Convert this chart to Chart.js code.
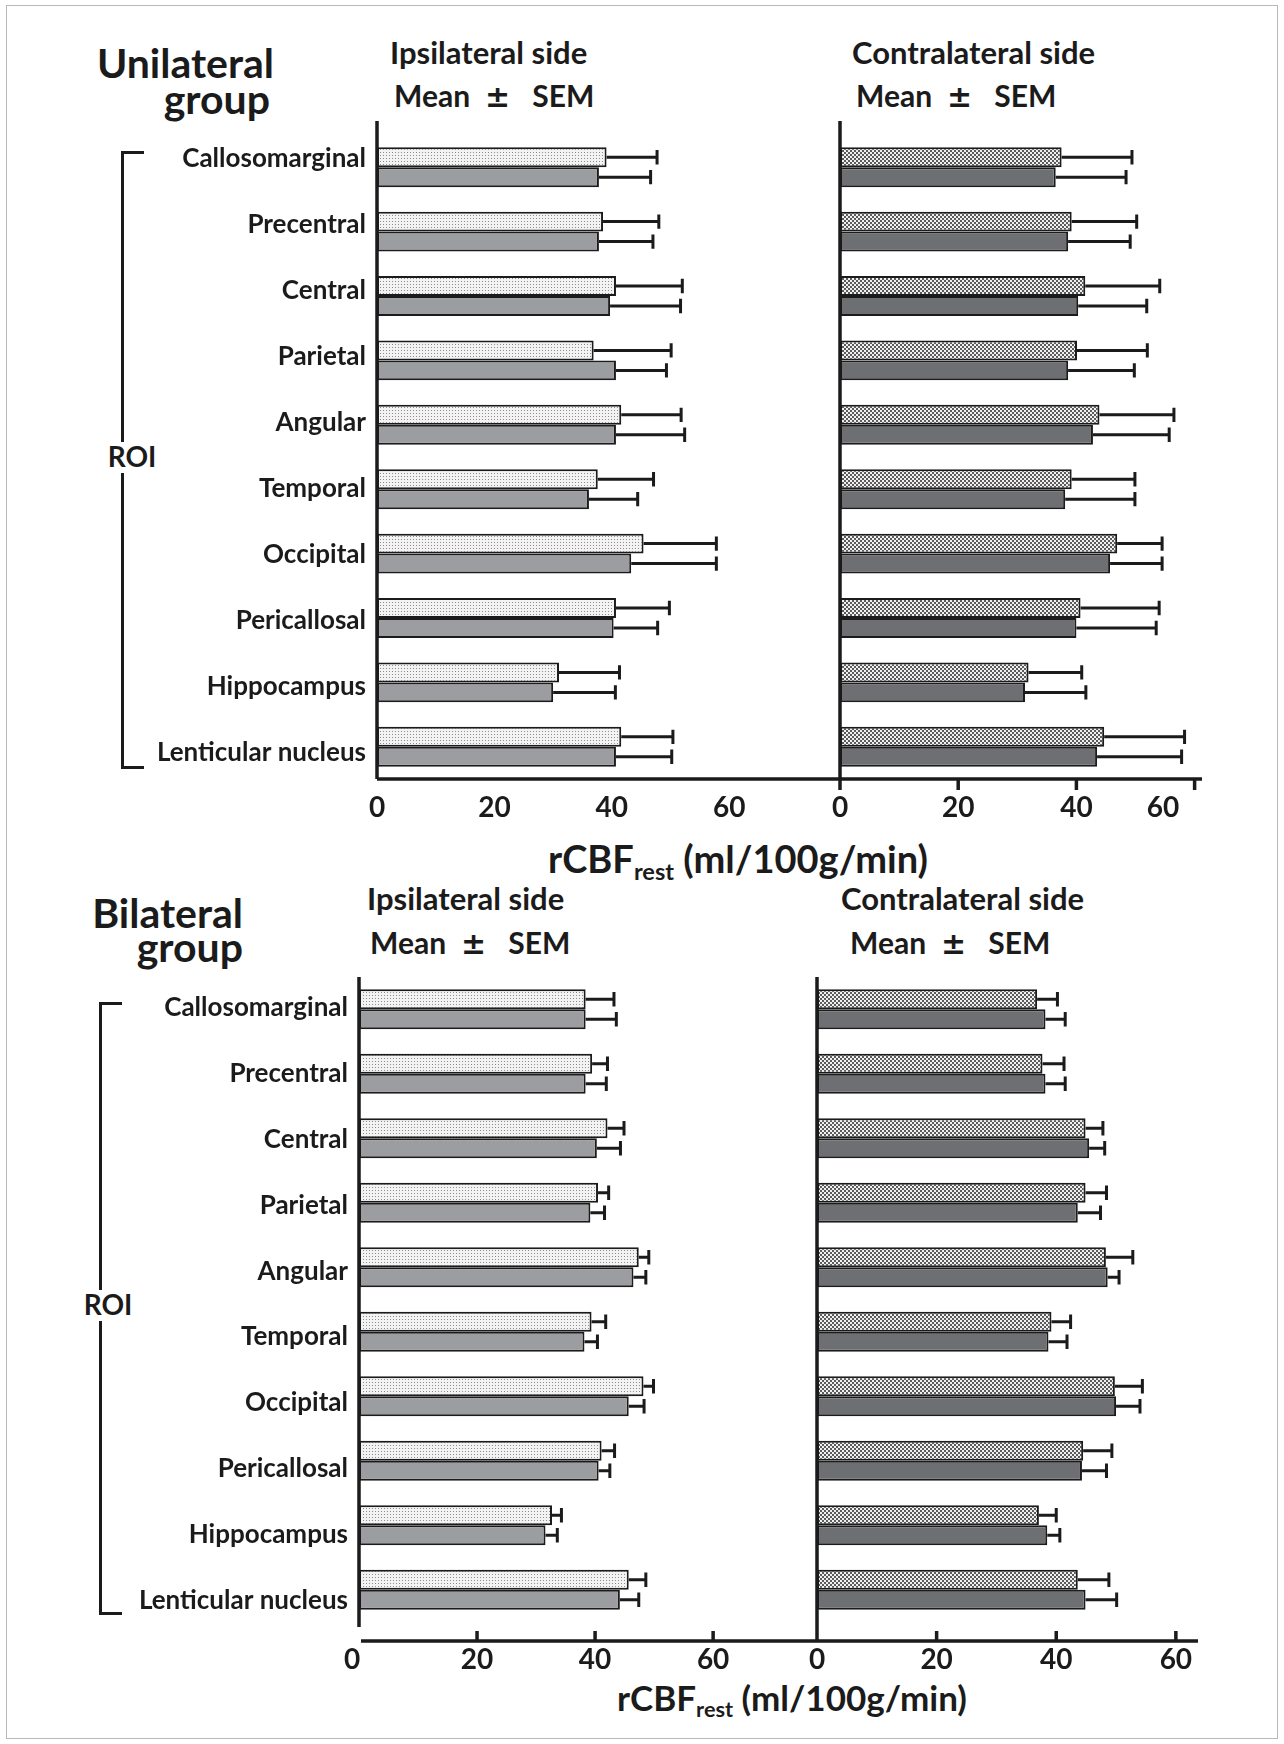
<!DOCTYPE html>
<html>
<head>
<meta charset="utf-8">
<script src="https://cdn.jsdelivr.net/npm/chart.js@4.4.1/dist/chart.umd.min.js"></script>
<style>
  html, body { margin: 0; padding: 0; background: #fff; }
  #page { position: relative; width: 1284px; height: 1744px; overflow: hidden; background: #fff; }
  .frame { position: absolute; left: 6px; top: 5px; width: 1270px; height: 1732px; border: 1px solid #b8b8b8; }
  .box { position: absolute; }
  .t { position: absolute; font-family: Lato, sans-serif; font-weight: 700; color: #1b1b1b;
       white-space: nowrap; line-height: 1; transform: translateY(-50%); }
  .big { font-size: 41px; text-align: right; width: 260px; }
  .side { font-size: 31px; }
  .msem { font-size: 30px; }
  .pm { font-family: 'DejaVu Sans', sans-serif; margin: 0 22px 0 15px; }
  .axt { transform: translate(-50%, -50%); }
  .axt sub { font-size: 0.62em; vertical-align: -0.3em; line-height: 0; }
  .roi { font-size: 28px; transform: translate(-50%, -50%); background: #fff; }
  .br { position: absolute; border-color: #1b1b1b; border-style: solid; border-width: 0; }
</style>
</head>
<body>
<div id="page">
  <div class="frame"></div>

  <div class="t big" style="left:14px; top:62px;">Unilateral</div>
  <div class="t big" style="left:10px; top:98px;">group</div>
  <div class="t side" style="left:390px; top:52px;">Ipsilateral side</div>
  <div class="t msem" style="left:394px; top:96px;">Mean<span class="pm">±</span>SEM</div>
  <div class="t side" style="left:852px; top:52px;">Contralateral side</div>
  <div class="t msem" style="left:856px; top:96px;">Mean<span class="pm">±</span>SEM</div>

  <div class="br" style="left:121px; top:151px; width:20px; height:289px; border-left-width:3px; border-top-width:3px;"></div>
  <div class="br" style="left:121px; top:473px; width:20px; height:293px; border-left-width:3px; border-bottom-width:3px;"></div>
  <div class="t roi" style="left:132px; top:456px;">ROI</div>

  <div class="t axt" style="left:738px; top:858px; font-size:38px;">rCBF<sub>rest</sub> (ml/100g/min)</div>

  <div class="t big" style="left:-17px; top:912px;">Bilateral</div>
  <div class="t big" style="left:-17px; top:946px;">group</div>
  <div class="t side" style="left:367px; top:898px;">Ipsilateral side</div>
  <div class="t msem" style="left:370px; top:943px;">Mean<span class="pm">±</span>SEM</div>
  <div class="t side" style="left:841px; top:898px;">Contralateral side</div>
  <div class="t msem" style="left:850px; top:943px;">Mean<span class="pm">±</span>SEM</div>

  <div class="br" style="left:99px; top:1002px; width:20px; height:285px; border-left-width:3px; border-top-width:3px;"></div>
  <div class="br" style="left:99px; top:1321px; width:20px; height:291px; border-left-width:3px; border-bottom-width:3px;"></div>
  <div class="t roi" style="left:108px; top:1304px;">ROI</div>

  <div class="t axt" style="left:792px; top:1697px; font-size:35px;">rCBF<sub>rest</sub> (ml/100g/min)</div>

  <div class="box" style="left:100px; top:100px; width:760px; height:740px;"><canvas id="uniIpsi"></canvas></div>
  <div class="box" style="left:830px; top:100px; width:400px; height:740px;"><canvas id="uniContra"></canvas></div>
  <div class="box" style="left:80px; top:940px; width:760px; height:770px;"><canvas id="biIpsi"></canvas></div>
  <div class="box" style="left:800px; top:940px; width:430px; height:770px;"><canvas id="biContra"></canvas></div>
</div>

<script>
const regions = ['Callosomarginal', 'Precentral', 'Central', 'Parietal', 'Angular',
  'Temporal', 'Occipital', 'Pericallosal', 'Hippocampus', 'Lenticular nucleus'];
const xTicks = [0, 20, 40, 60];

// Unilateral group, ipsilateral side (dotted bar / plain bar), mean and SEM
const uniIpsiDot = [39.1, 38.5, 40.7, 36.9, 41.6, 37.6, 45.4, 40.7, 31.0, 41.6];
const uniIpsiDotSem = [8.6, 9.5, 11.3, 13.2, 10.2, 9.5, 12.4, 9.1, 10.3, 8.8];
const uniIpsiPlain = [37.8, 37.8, 39.7, 40.7, 40.7, 36.1, 43.3, 40.3, 30.0, 40.7];
const uniIpsiPlainSem = [8.8, 9.2, 12.0, 8.6, 11.7, 8.3, 14.5, 7.5, 10.6, 9.5];

// Unilateral group, contralateral side
const uniContraDot = [37.5, 39.2, 41.5, 40.1, 43.9, 39.2, 46.9, 40.7, 31.9, 44.7];
const uniContraDotSem = [11.9, 11.0, 12.6, 11.9, 12.6, 10.7, 7.6, 13.3, 9.0, 13.6];
const uniContraPlain = [36.5, 38.6, 40.3, 38.6, 42.8, 38.1, 45.7, 40.0, 31.3, 43.5];
const uniContraPlainSem = [11.9, 10.5, 11.6, 11.2, 12.9, 11.8, 8.8, 13.5, 10.3, 14.3];

// Bilateral group, ipsilateral side
const biIpsiDot = [38.4, 39.5, 42.1, 40.5, 47.4, 39.4, 48.2, 41.1, 32.7, 45.7];
const biIpsiDotSem = [4.8, 2.6, 2.8, 1.8, 1.7, 2.4, 1.7, 2.2, 1.6, 2.9];
const biIpsiPlain = [38.4, 38.4, 40.3, 39.2, 46.5, 38.2, 45.7, 40.6, 31.6, 44.2];
const biIpsiPlainSem = [5.2, 3.5, 4.0, 2.4, 2.1, 2.2, 2.6, 1.9, 2.0, 3.2];

// Bilateral group, contralateral side
const biContraDot = [36.8, 37.7, 44.9, 44.9, 48.3, 39.2, 49.8, 44.5, 37.1, 43.6];
const biContraDotSem = [3.4, 3.6, 2.9, 3.5, 4.5, 3.2, 4.6, 4.8, 2.9, 5.2];
const biContraPlain = [38.2, 38.2, 45.5, 43.6, 48.6, 38.7, 50.0, 44.3, 38.5, 44.9];
const biContraPlainSem = [3.3, 3.3, 2.6, 3.8, 1.9, 3.1, 4.0, 4.1, 2.1, 5.2];

const ink = '#1b1b1b';

// fine dot fill for the ipsilateral bars
function dotFill() {
  const c = document.createElement('canvas');
  c.width = 3; c.height = 3;
  const g = c.getContext('2d');
  g.fillStyle = '#f3f3f3'; g.fillRect(0, 0, 3, 3);
  g.fillStyle = '#8c8c8c'; g.fillRect(1, 1, 1, 1);
  return g.createPattern(c, 'repeat');
}

// small checker fill for the contralateral bars
function checkFill() {
  const c = document.createElement('canvas');
  c.width = 4; c.height = 4;
  const g = c.getContext('2d');
  g.fillStyle = '#5c5c5c'; g.fillRect(0, 0, 4, 4);
  g.fillStyle = '#f0f0f0'; g.fillRect(0, 0, 2, 2); g.fillRect(2, 2, 2, 2);
  return g.createPattern(c, 'repeat');
}

const errorBars = {
  id: 'errorBars',
  afterDatasetsDraw(chart) {
    const ctx = chart.ctx, xs = chart.scales.x;
    ctx.save();
    ctx.strokeStyle = ink;
    ctx.lineWidth = 3;
    chart.data.datasets.forEach((ds, i) => {
      chart.getDatasetMeta(i).data.forEach((bar, j) => {
        const xEnd = xs.getPixelForValue(ds.data[j] + ds.sem[j]);
        const cap = bar.height * 0.36;
        ctx.beginPath();
        ctx.moveTo(bar.x, bar.y);
        ctx.lineTo(xEnd, bar.y);
        ctx.moveTo(xEnd, bar.y - cap);
        ctx.lineTo(xEnd, bar.y + cap);
        ctx.stroke();
      });
    });
    ctx.restore();
  }
};

const axisLines = {
  id: 'axisLines',
  afterDatasetsDraw(chart, args, o) {
    const ctx = chart.ctx, a = chart.chartArea, xs = chart.scales.x;
    const hy = a.bottom + o.hY;
    ctx.save();
    ctx.strokeStyle = ink;
    ctx.lineWidth = 3.5;
    ctx.beginPath();
    ctx.moveTo(a.left, a.top - o.vTop);
    ctx.lineTo(a.left, a.bottom + o.vBottom);
    ctx.moveTo(a.left + o.hStart, hy);
    ctx.lineTo(a.right, hy);
    o.ticks.forEach(v => {
      const px = xs.getPixelForValue(v);
      ctx.moveTo(px, hy);
      ctx.lineTo(px, hy + o.tickLen);
    });
    ctx.stroke();
    ctx.restore();
  }
};

function makeChart(id, cfg) {
  new Chart(document.getElementById(id), {
    type: 'bar',
    data: {
      labels: regions,
      datasets: [{
        label: 'Dotted bars',
        data: cfg.dot,
        sem: cfg.dotSem,
        backgroundColor: cfg.dotFill,
        borderColor: ink,
        borderWidth: 2,
        borderSkipped: false
      }, {
        label: 'Plain bars',
        data: cfg.plain,
        sem: cfg.plainSem,
        backgroundColor: cfg.plainColor,
        borderColor: ink,
        borderWidth: 2,
        borderSkipped: false
      }]
    },
    options: {
      indexAxis: 'y',
      responsive: true,
      maintainAspectRatio: false,
      animation: false,
      categoryPercentage: 0.62,
      barPercentage: 1.0,
      layout: { padding: cfg.padding },
      scales: {
        y: { display: false },
        // region names: in the original they are spread a little wider than the bar rows
        yNames: {
          type: 'linear',
          axis: 'y',
          position: 'left',
          reverse: true,
          offset: false,
          beginAtZero: false,
          grace: 0,
          min: cfg.nameRange[0],
          max: cfg.nameRange[1],
          display: cfg.showLabels,
          grid: { display: false, drawTicks: false, offset: false },
          border: { display: false },
          afterBuildTicks(s) { s.ticks = regions.map((r, i) => ({ value: i })); },
          ticks: { callback: v => regions[v], autoSkip: false,
                   font: { family: 'Lato', weight: 'bold', size: 26 }, color: ink, padding: 11 },
          afterFit(s) { s.width = cfg.labelWidth; }
        },
        x: {
          min: 0,
          max: cfg.max,
          grid: { display: false, drawTicks: false },
          border: { display: false },
          ticks: { stepSize: 20, includeBounds: false, maxRotation: 0, callback: cfg.tickText,
                   font: { family: 'Lato', weight: 'bold', size: 28 }, color: ink, padding: cfg.tickPad },
          afterFit(s) {
            s.height = cfg.axisHeight;
            s.paddingLeft = 0;
            s.paddingRight = 0;
          }
        }
      },
      plugins: {
        legend: { display: false },
        tooltip: { enabled: false },
        axisLines: cfg.axis
      }
    },
    plugins: [errorBars, axisLines]
  });
}

const plainTick = v => String(v);

makeChart('uniIpsi', {
  dot: uniIpsiDot, dotSem: uniIpsiDotSem, plain: uniIpsiPlain, plainSem: uniIpsiPlainSem,
  dotFill: dotFill(), plainColor: '#9c9da1',
  showLabels: true, labelWidth: 277, nameRange: [-0.364, 9.408],
  max: 79.2, axisHeight: 61, tickPad: 12, tickText: plainTick,
  padding: { top: 35, right: 18, bottom: 0, left: 0 },
  axis: { vTop: 14, vBottom: 0, hY: 0, hStart: 0, ticks: [], tickLen: 0 }
});

makeChart('uniContra', {
  dot: uniContraDot, dotSem: uniContraDotSem, plain: uniContraPlain, plainSem: uniContraPlainSem,
  dotFill: checkFill(), plainColor: '#6e6f73',
  showLabels: false, labelWidth: 0, nameRange: [-0.364, 9.408],
  max: 61.25, axisHeight: 61, tickPad: 12,
  // the last label sits left of its tick in the original
  tickText: v => (v === 60 ? '60\u2003\u2003\u2003' : String(v)),
  padding: { top: 35, right: 28, bottom: 0, left: 10 },
  axis: { vTop: 14, vBottom: 0, hY: 0, hStart: 0, ticks: xTicks, tickLen: 11 }
});

makeChart('biIpsi', {
  dot: biIpsiDot, dotSem: biIpsiDotSem, plain: biIpsiPlain, plainSem: biIpsiPlainSem,
  dotFill: dotFill(), plainColor: '#9c9da1',
  showLabels: true, labelWidth: 279, nameRange: [-0.471, 9.331],
  max: 77.6, axisHeight: 88, tickPad: 21,
  tickText: v => (v === 0 ? '0\u2002' : String(v)),
  padding: { top: 37, right: 23, bottom: 0, left: 0 },
  axis: { vTop: 0, vBottom: 5, hY: 19, hStart: 2, ticks: [20, 40, 60], tickLen: -10 }
});

makeChart('biContra', {
  dot: biContraDot, dotSem: biContraDotSem, plain: biContraPlain, plainSem: biContraPlainSem,
  dotFill: checkFill(), plainColor: '#6e6f73',
  showLabels: false, labelWidth: 0, nameRange: [-0.471, 9.331],
  max: 63.7, axisHeight: 88, tickPad: 21, tickText: plainTick,
  padding: { top: 37, right: 32, bottom: 0, left: 17 },
  axis: { vTop: 0, vBottom: 19, hY: 19, hStart: 0, ticks: [20, 40, 60], tickLen: -10 }
});
</script>
</body>
</html>
